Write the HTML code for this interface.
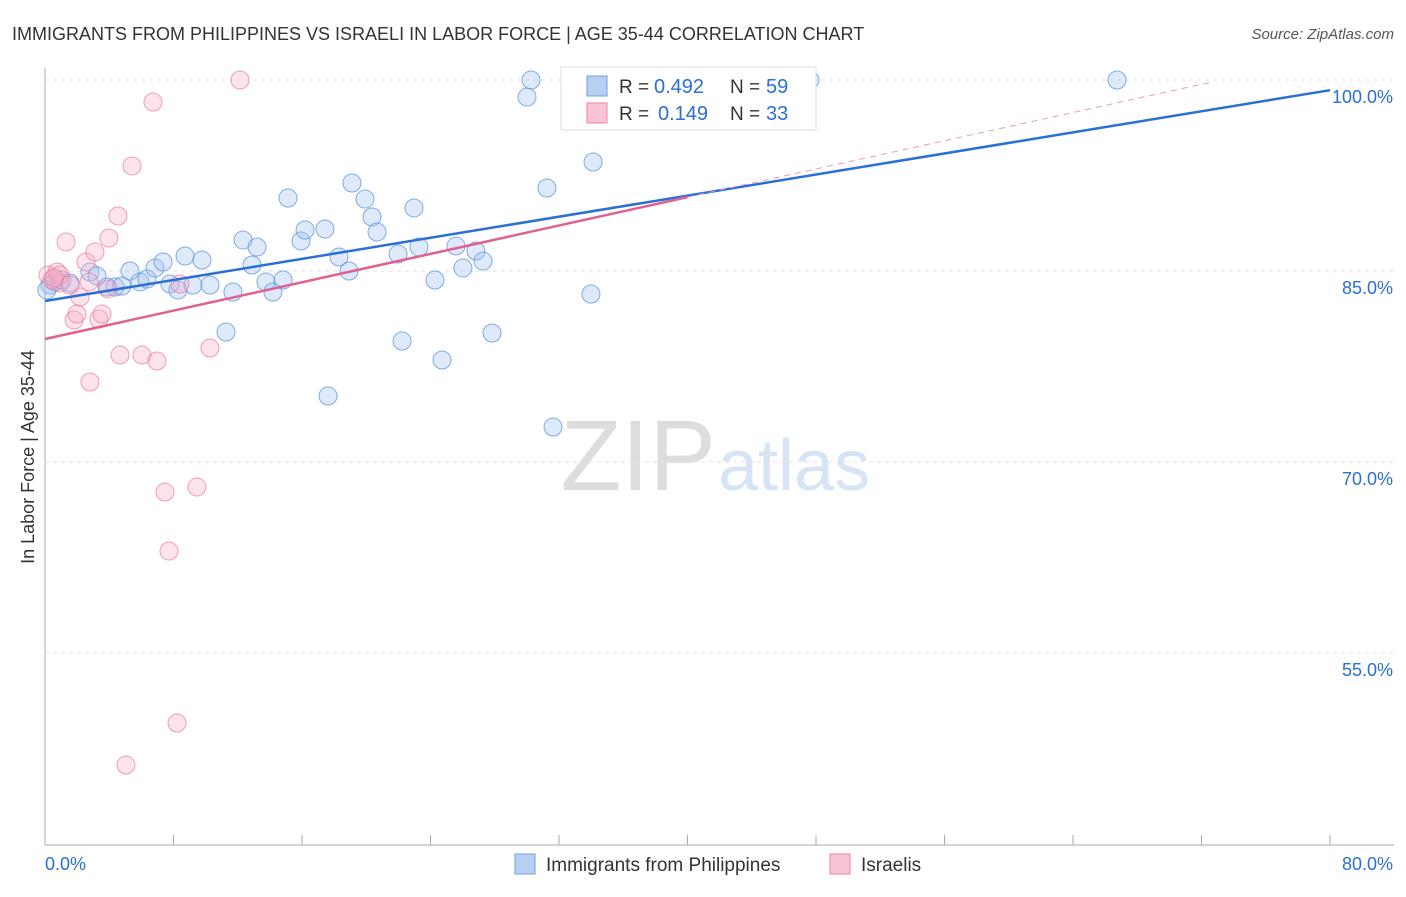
<!DOCTYPE html>
<html><head><meta charset="utf-8"><style>
body{margin:0;background:#fff;font-family:"Liberation Sans",sans-serif}
svg text{font-family:"Liberation Sans",sans-serif}
</style></head><body>
<svg id="chart" width="1406" height="892">
<text x="12" y="40" font-size="18" fill="#333">IMMIGRANTS FROM PHILIPPINES VS ISRAELI IN LABOR FORCE | AGE 35-44 CORRELATION CHART</text>
<text x="1394" y="39" font-size="15" fill="#555" font-style="italic" text-anchor="end">Source: ZipAtlas.com</text>
<text x="716" y="490" font-size="100" fill="#ddd" text-anchor="end" font-family="Liberation Serif">ZIP</text>
<text x="718" y="490" font-size="72" fill="#d6e4f5">atlas</text>
<text transform="translate(34,457) rotate(-90)" font-size="18" fill="#333" text-anchor="middle">In Labor Force | Age 35-44</text>
<g id="grid"></g><g id="pts"></g><g id="lines"></g>
<g>
<rect x="561" y="67" width="255" height="63" fill="#fff" stroke="#ddd"/>
<rect x="587" y="76" width="20" height="20" fill="#b7d0f2" stroke="#6fa0e0"/>
<rect x="587" y="103" width="20" height="20" fill="#f8c5d6" stroke="#f080a8"/>
<text x="619" y="93" font-size="19" fill="#333">R =</text><text x="654" y="93" font-size="20" fill="#2a6fd6">0.492</text>
<text x="730" y="93" font-size="19" fill="#333">N =</text><text x="766" y="93" font-size="20" fill="#2a6fd6">59</text>
<text x="619" y="120" font-size="19" fill="#333">R =</text><text x="658" y="120" font-size="20" fill="#2a6fd6">0.149</text>
<text x="730" y="120" font-size="19" fill="#333">N =</text><text x="766" y="120" font-size="20" fill="#2a6fd6">33</text>
</g>
<g>
<rect x="515" y="854" width="20" height="20" fill="#b7d0f2" stroke="#6fa0e0"/>
<text x="546" y="871" font-size="19" fill="#333">Immigrants from Philippines</text>
<rect x="830" y="854" width="20" height="20" fill="#f8c5d6" stroke="#f080a8"/>
<text x="861" y="871" font-size="19" fill="#333">Israelis</text>
</g>
</svg>
<script>
const xTicks=[0,80];
const yTicks=[100,85,70,55];
const bluePx=[[50,285],[55,282],[62,280],[70,283],[90,272],[97,276],[107,287],[115,287],[122,286],[130,271],[140,282],[147,279],[155,268],[163,262],[170,284],[178,290],[185,256],[193,285],[202,260],[210,285],[233,292],[226,332],[243,240],[252,265],[257,247],[266,282],[273,292],[283,280],[288,198],[301,241],[305,230],[325,229],[328,396],[339,257],[349,271],[352,183],[365,199],[372,217],[377,232],[398,254],[402,341],[414,208],[419,247],[435,280],[442,360],[456,246],[463,268],[476,251],[483,261],[492,333],[527,97],[531,80],[547,188],[553,427],[591,294],[593,162],[810,80],[1117,80],[47,290]];
const pinkPx=[[48,275],[52,280],[57,272],[60,283],[66,242],[74,320],[77,314],[80,297],[86,262],[90,382],[95,252],[99,319],[102,314],[109,238],[118,216],[120,355],[132,166],[142,355],[153,102],[157,361],[165,492],[169,551],[177,723],[180,284],[197,487],[210,348],[240,80],[126,765],[89,282],[108,289],[60,275],[54,278],[70,285]];
const r2=v=>Math.round(v*100)/100;
const blueX=bluePx.map(p=>r2((p[0]-45)/16.0625)), blueY=bluePx.map(p=>r2(100-(p[1]-80)/12.733));
const pinkX=pinkPx.map(p=>r2((p[0]-45)/16.0625)), pinkY=pinkPx.map(p=>r2(100-(p[1]-80)/12.733));
const blueFit=[82.64,99.2], pinkFit=[79.66,90.8,99.8], pinkFitX=[0,40,72.5];
const X=v=>45+v*16.0625, Y=v=>80+(100-v)*12.733;
const NS="http://www.w3.org/2000/svg";
function mk(t,a,p){const e=document.createElementNS(NS,t);for(const k in a)e.setAttribute(k,a[k]);p.appendChild(e);return e;}
const g=document.getElementById('grid');
mk('line',{x1:45,y1:68,x2:45,y2:845,stroke:'#aaa'},g);
mk('line',{x1:45,y1:845,x2:1394,y2:845,stroke:'#aaa'},g);
for(let i=0;i<=10;i++){mk('line',{x1:X(i*8),y1:835,x2:X(i*8),y2:845,stroke:'#aaa'},g);}
yTicks.forEach(v=>{
const l=mk('line',{x1:45,y1:Y(v),x2:1394,y2:Y(v),stroke:'#e2e2e2','stroke-dasharray':'4,4'},g);


const t=mk('text',{x:1393,y:Y(v)+23,'font-size':18,fill:'#2a6fd6','text-anchor':'end'},g);t.textContent=v.toFixed(1)+'%';


});
xTicks.forEach((v,i)=>{const t=mk('text',{x:i?1393:45,y:870,'font-size':18,fill:'#2a6fd6','text-anchor':i?'end':'start'},g);t.textContent=v.toFixed(1)+'%';

});
const pg=document.getElementById('pts');
blueX.forEach((x,i)=>{const c=mk('circle',{cx:X(x),cy:Y(blueY[i]),r:9,fill:'rgba(160,195,240,0.35)',stroke:'rgba(90,145,220,0.75)','stroke-width':1},pg);

});
pinkX.forEach((x,i)=>{const c=mk('circle',{cx:X(x),cy:Y(pinkY[i]),r:9,fill:'rgba(245,175,200,0.35)',stroke:'rgba(235,120,160,0.7)','stroke-width':1},pg);

});
const lg=document.getElementById('lines');
const bl=mk('line',{x1:X(0),y1:Y(blueFit[0]),x2:X(80),y2:Y(blueFit[1]),stroke:'#2a6fd6','stroke-width':2.5},lg);


const pl=mk('line',{x1:X(pinkFitX[0]),y1:Y(pinkFit[0]),x2:X(pinkFitX[1]),y2:Y(pinkFit[1]),stroke:'#e0608f','stroke-width':2.5},lg);


const pd=mk('line',{x1:X(pinkFitX[1]),y1:Y(pinkFit[1]),x2:X(pinkFitX[2]),y2:Y(pinkFit[2]),stroke:'#e89ab5','stroke-width':1,'stroke-dasharray':'6,5'},lg);


</script>
</body></html>
